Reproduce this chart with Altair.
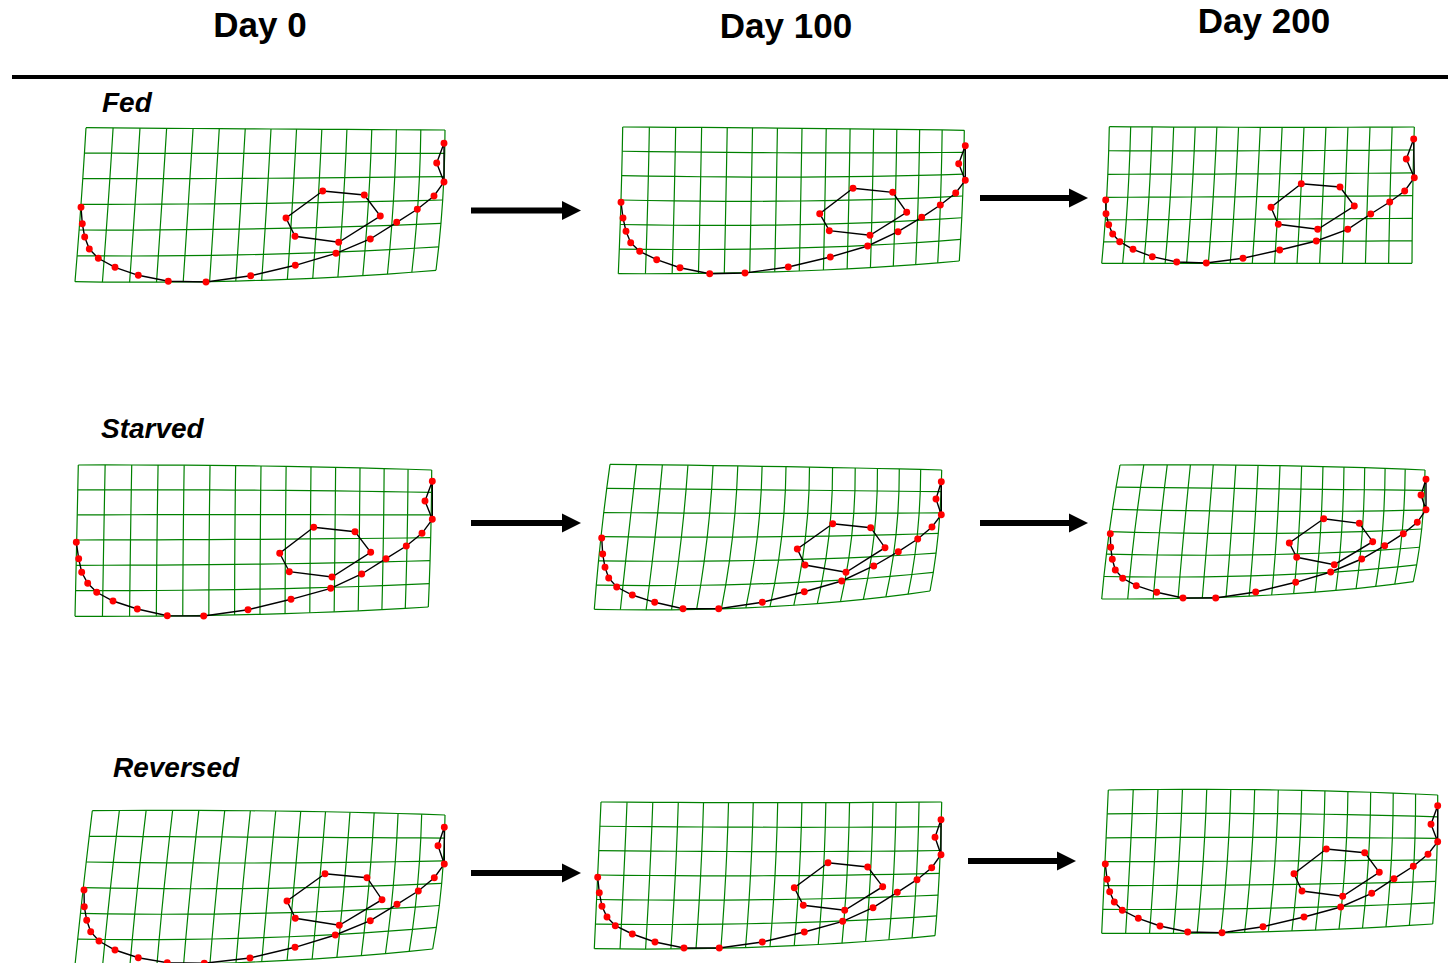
import altair as alt
import pandas as pd

W, H = 1448, 963

# Column headers and row labels
DAYS = ["Day 0", "Day 100", "Day 200"]
DAY_X = [260, 786, 1264]
DAY_Y = [37, 38, 33]
GROUPS = ["Fed", "Starved", "Reversed"]
GROUP_X = [102, 101, 113]
GROUP_Y = [112, 438, 777]

PANELS = ["fed_0", "fed_100", "fed_200",
          "starved_0", "starved_100", "starved_200",
          "reversed_0", "reversed_100", "reversed_200"]

# Outline landmarks: ventral curve running up to the tail tip triangle
fed_0_curve = [(81.0, 207.3), (82.3, 223.7), (84.7, 237.0), (89.3, 249.0), (98.3, 258.3),
               (115.0, 267.3), (138.3, 275.3), (168.3, 281.3), (206.0, 282.0), (250.7, 275.7),
               (295.3, 265.3), (336.0, 253.3), (370.3, 239.0), (396.7, 222.3), (417.3, 209.3),
               (434.0, 196.0), (444.0, 182.0), (436.7, 163.0), (444.0, 143.3)]
fed_100_curve = [(621.0, 202.3), (623.0, 218.0), (626.0, 231.3), (630.7, 242.7), (639.7, 251.3),
                 (656.7, 259.7), (680.0, 267.7), (709.7, 273.7), (745.0, 273.0), (788.3, 267.0),
                 (830.3, 257.0), (867.7, 246.0), (898.0, 231.7), (921.7, 217.3), (940.3, 205.0),
                 (955.7, 193.0), (965.3, 180.3), (958.7, 163.7), (965.3, 145.7)]
fed_200_curve = [(1105.7, 200.0), (1106.0, 213.7), (1108.7, 224.7), (1112.7, 234.0), (1119.7, 241.7),
                 (1133.0, 249.3), (1152.3, 256.7), (1176.7, 262.0), (1206.3, 263.0), (1243.0, 258.3),
                 (1279.7, 250.0), (1316.3, 241.0), (1347.7, 229.3), (1370.7, 214.0), (1389.7, 202.0),
                 (1404.7, 191.0), (1414.3, 177.7), (1406.3, 159.0), (1413.7, 139.0)]
starved_0_curve = [(76.3, 542.3), (78.7, 558.7), (81.7, 572.3), (87.7, 583.3), (96.7, 592.3),
                   (113.0, 601.0), (137.3, 609.0), (167.3, 615.7), (203.7, 616.0), (248.0, 609.7),
                   (291.0, 599.3), (330.7, 588.3), (361.7, 574.0), (386.0, 558.7), (406.3, 546.0),
                   (422.0, 533.3), (432.3, 519.3), (425.0, 501.0), (432.3, 481.3)]
starved_100_curve = [(601.7, 538.0), (602.7, 554.0), (605.0, 567.3), (608.7, 578.0), (616.7, 587.0),
                     (632.3, 595.0), (654.7, 602.3), (683.0, 608.7), (718.7, 608.7), (762.3, 602.3),
                     (804.3, 591.7), (841.7, 581.0), (873.7, 566.0), (898.3, 551.7), (917.7, 539.0),
                     (932.0, 527.0), (941.3, 514.7), (936.0, 499.0), (941.3, 481.7)]
starved_200_curve = [(1110.3, 533.7), (1110.7, 547.3), (1112.3, 559.3), (1115.3, 570.0), (1122.7, 578.3),
                     (1136.3, 585.7), (1156.7, 592.3), (1183.0, 598.0), (1215.7, 598.0), (1255.7, 592.0),
                     (1295.7, 582.3), (1330.7, 572.0), (1361.7, 559.0), (1384.7, 545.7), (1403.3, 533.7),
                     (1417.3, 522.3), (1426.0, 509.7), (1421.0, 495.0), (1426.0, 479.3)]
reversed_0_curve = [(84.0, 890.0), (84.3, 906.7), (86.7, 920.3), (90.7, 931.7), (99.0, 941.0),
                    (115.0, 950.0), (138.3, 957.7), (167.3, 962.7), (204.3, 963.3), (250.0, 958.0),
                    (295.0, 947.3), (335.3, 935.0), (370.3, 920.7), (397.0, 904.3), (418.3, 891.0),
                    (434.3, 877.7), (444.3, 864.0), (438.0, 845.7), (444.3, 827.3)]
reversed_100_curve = [(597.7, 877.3), (599.3, 892.7), (602.0, 906.3), (607.0, 917.0), (615.3, 925.7),
                      (632.3, 934.0), (655.0, 942.0), (684.0, 948.0), (719.3, 948.0), (762.3, 942.0),
                      (804.3, 932.0), (842.7, 921.3), (873.0, 907.7), (897.3, 892.3), (917.0, 879.7),
                      (931.7, 867.7), (941.0, 854.7), (935.0, 837.3), (941.0, 819.7)]
reversed_200_curve = [(1105.3, 864.0), (1107.0, 879.3), (1109.7, 891.7), (1114.3, 902.0), (1122.3, 910.3),
                      (1138.3, 918.3), (1160.0, 926.0), (1187.7, 932.0), (1222.0, 932.7), (1263.0, 926.7),
                      (1304.0, 917.0), (1340.7, 907.0), (1371.7, 893.3), (1394.0, 878.7), (1413.3, 866.3),
                      (1428.0, 854.3), (1437.7, 841.7), (1431.0, 824.3), (1437.7, 805.7)]

# Inner closed ring of six landmarks
fed_0_ring = [(322.7, 191.0), (364.3, 195.0), (380.3, 216.0), (338.7, 242.3), (295.0, 236.3), (286.0, 218.0)]
fed_100_ring = [(853.0, 188.3), (892.7, 192.3), (906.7, 212.3), (870.0, 235.3), (829.3, 230.7), (819.7, 213.7)]
fed_200_ring = [(1301.3, 183.7), (1340.0, 187.0), (1354.3, 206.0), (1317.7, 229.3), (1278.3, 224.3), (1271.0, 207.3)]
starved_0_ring = [(313.7, 527.3), (355.0, 531.7), (370.7, 552.3), (332.0, 577.0), (289.3, 571.7), (279.7, 553.3)]
starved_100_ring = [(832.7, 523.7), (870.7, 527.7), (885.0, 547.7), (846.0, 572.3), (805.0, 565.0), (797.3, 549.0)]
starved_200_ring = [(1323.7, 518.7), (1359.3, 523.3), (1372.7, 541.7), (1334.3, 564.7), (1296.7, 557.3), (1289.3, 543.0)]
reversed_0_ring = [(325.0, 873.7), (367.0, 877.7), (382.0, 899.7), (339.3, 925.3), (295.3, 918.3), (287.0, 901.0)]
reversed_100_ring = [(828.0, 862.7), (867.7, 867.0), (882.7, 886.7), (844.7, 910.3), (803.3, 905.3), (794.3, 887.7)]
reversed_200_ring = [(1326.3, 849.0), (1364.7, 852.7), (1379.3, 872.3), (1342.7, 896.3), (1302.0, 891.0), (1294.0, 873.7)]

# Deformation grid nodes (top / middle / bottom row x left / middle / right column)
fed_0_grid = [[(86.0, 127.7), (271.0, 129.0), (445.0, 130.0)],
              [(81.0, 204.3), (266.7, 203.3), (442.7, 200.0)],
              [(75.0, 281.7), (261.7, 280.3), (436.0, 270.3)]]
fed_100_grid = [[(622.7, 127.0), (802.0, 128.3), (964.3, 130.3)],
                [(621.0, 200.0), (800.7, 201.0), (962.7, 196.0)],
                [(618.3, 273.7), (799.3, 271.0), (959.3, 261.0)]]
fed_200_grid = [[(1109.3, 126.7), (1260.3, 127.3), (1414.3, 127.0)],
                [(1106.7, 197.3), (1256.7, 196.7), (1412.7, 195.7)],
                [(1101.7, 263.3), (1252.3, 263.3), (1412.0, 263.3)]]
starved_0_grid = [[(78.3, 465.0), (261.0, 466.0), (431.7, 470.0)],
                  [(76.7, 540.0), (260.3, 539.3), (430.7, 537.7)],
                  [(75.0, 616.3), (260.0, 614.3), (428.3, 607.0)]]
starved_100_grid = [[(610.0, 464.3), (786.0, 466.7), (941.7, 470.0)],
                    [(601.0, 536.7), (781.7, 536.7), (938.3, 533.3)],
                    [(594.3, 609.3), (770.0, 606.7), (930.0, 591.0)]]
starved_200_grid = [[(1120.0, 465.0), (1280.0, 465.7), (1425.0, 470.0)],
                    [(1109.3, 531.7), (1276.7, 533.3), (1421.7, 529.0)],
                    [(1101.7, 599.0), (1271.7, 595.0), (1413.3, 581.7)]]
reversed_0_grid = [[(92.3, 810.7), (275.7, 811.0), (445.0, 815.0)],
                   [(83.3, 887.7), (268.3, 888.3), (441.7, 883.3)],
                   [(75.0, 965.0), (261.7, 961.7), (432.7, 949.0)]]
reversed_100_grid = [[(601.0, 802.0), (777.7, 802.7), (941.7, 802.0)],
                     [(597.7, 875.0), (775.0, 875.7), (939.3, 873.3)],
                     [(594.3, 948.7), (770.0, 946.7), (935.0, 935.7)]]
reversed_200_grid = [[(1108.3, 790.0), (1278.3, 790.0), (1437.7, 795.0)],
                     [(1105.0, 861.7), (1275.0, 861.0), (1436.7, 860.0)],
                     [(1101.7, 933.3), (1268.3, 931.7), (1432.7, 924.0)]]

GRID_COLS = 14
GRID_ROWS = 6

# Arrows between time points: start x, end x, y
ARROW_X0 = [471, 980, 471, 980, 471, 968]
ARROW_X1 = [581, 1088, 581, 1088, 581, 1076]
ARROW_Y = [210.5, 198, 523, 523, 873, 861]
HEAD_LEN = 19

curves = dict(zip(PANELS, [fed_0_curve, fed_100_curve, fed_200_curve,
                           starved_0_curve, starved_100_curve, starved_200_curve,
                           reversed_0_curve, reversed_100_curve, reversed_200_curve]))
rings = dict(zip(PANELS, [fed_0_ring, fed_100_ring, fed_200_ring,
                          starved_0_ring, starved_100_ring, starved_200_ring,
                          reversed_0_ring, reversed_100_ring, reversed_200_ring]))
grids = dict(zip(PANELS, [fed_0_grid, fed_100_grid, fed_200_grid,
                          starved_0_grid, starved_100_grid, starved_200_grid,
                          reversed_0_grid, reversed_100_grid, reversed_200_grid]))


def basis(t):
    return [2 * (t - 0.5) * (t - 1), -4 * t * (t - 1), 2 * t * (t - 0.5)]


def warp(ctrl, u, v):
    bu, bv = basis(u), basis(v)
    x = sum(bv[r] * bu[c] * ctrl[r][c][0] for r in range(3) for c in range(3))
    y = sum(bv[r] * bu[c] * ctrl[r][c][1] for r in range(3) for c in range(3))
    return x, y


grid_rows = []
for p, ctrl in grids.items():
    for i in range(GRID_COLS + 1):
        for j in range(GRID_ROWS + 1):
            x, y = warp(ctrl, i / GRID_COLS, j / GRID_ROWS)
            grid_rows.append({"key": f"{p}-v{i}", "x": x, "y": y, "o": j})
    for j in range(GRID_ROWS + 1):
        for i in range(GRID_COLS + 1):
            x, y = warp(ctrl, i / GRID_COLS, j / GRID_ROWS)
            grid_rows.append({"key": f"{p}-h{j}", "x": x, "y": y, "o": i})
grid_df = pd.DataFrame(grid_rows)

line_rows, point_rows = [], []
for p in PANELS:
    c = curves[p]
    path = c + [c[16]]  # tail tip closes back on itself
    for k, (x, y) in enumerate(path):
        line_rows.append({"key": f"{p}-curve", "x": x, "y": y, "o": k})
    r = rings[p]
    for k, (x, y) in enumerate(r + [r[0]]):
        line_rows.append({"key": f"{p}-ring", "x": x, "y": y, "o": k})
    for x, y in c + r:
        point_rows.append({"x": x, "y": y})
line_df = pd.DataFrame(line_rows)
point_df = pd.DataFrame(point_rows)

arrow_df = pd.DataFrame({"x0": ARROW_X0, "x1": [b - HEAD_LEN + 1 for b in ARROW_X1],
                         "hx": [b - HEAD_LEN / 2 for b in ARROW_X1], "y": ARROW_Y})
day_df = pd.DataFrame({"t": DAYS, "x": DAY_X, "y": DAY_Y})
group_df = pd.DataFrame({"t": GROUPS, "x": GROUP_X, "y": GROUP_Y})
rule_df = pd.DataFrame({"x0": [12], "x1": [W], "y": [77]})

xs = alt.Scale(domain=[0, W], nice=False, zero=False)
ys = alt.Scale(domain=[0, H], nice=False, zero=False, reverse=True)
X = alt.X("x:Q", scale=xs, axis=None)
Y = alt.Y("y:Q", scale=ys, axis=None)

grid = alt.Chart(grid_df).mark_line(color="#008000", strokeWidth=1.2).encode(
    x=X, y=Y, detail="key:N", order="o:Q")

outline = alt.Chart(line_df).mark_line(color="#000000", strokeWidth=1.4).encode(
    x=X, y=Y, detail="key:N", order="o:Q")

dots = alt.Chart(point_df).mark_circle(color="#ff0000", size=48, opacity=1).encode(x=X, y=Y)

shafts = alt.Chart(arrow_df).mark_rule(color="black", strokeWidth=6, strokeCap="butt").encode(
    x=alt.X("x0:Q", scale=xs, axis=None), x2="x1:Q", y=alt.Y("y:Q", scale=ys, axis=None))

heads = alt.Chart(arrow_df).mark_point(
    shape="M-1,-1L1,0L-1,1Z", filled=True, color="black", size=HEAD_LEN * HEAD_LEN, opacity=1
).encode(x=alt.X("hx:Q", scale=xs, axis=None), y=alt.Y("y:Q", scale=ys, axis=None))

divider = alt.Chart(rule_df).mark_rule(color="black", strokeWidth=4).encode(
    x=alt.X("x0:Q", scale=xs, axis=None), x2="x1:Q", y=alt.Y("y:Q", scale=ys, axis=None))

headers = alt.Chart(day_df).mark_text(
    font="Liberation Sans", fontSize=35, fontWeight="bold", align="center",
    baseline="alphabetic", color="black").encode(x=X, y=Y, text="t:N")

labels = alt.Chart(group_df).mark_text(
    font="Liberation Sans", fontSize=28, fontWeight="bold", fontStyle="italic",
    align="left", baseline="alphabetic", color="black").encode(x=X, y=Y, text="t:N")

chart = alt.layer(grid, outline, dots, shafts, heads, divider, headers, labels).properties(
    width=W, height=H, padding=0, autosize="none"
).configure_view(stroke=None)

chart.save("out.html", embed_options={"renderer": "svg", "actions": False})
